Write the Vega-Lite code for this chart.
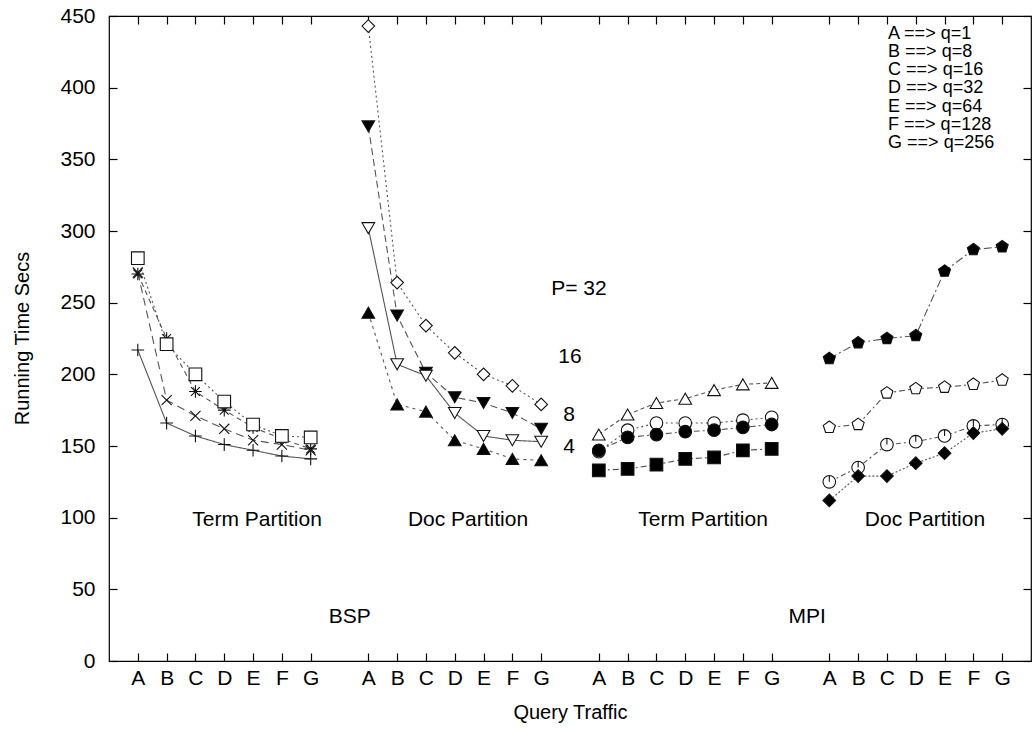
{
  "$schema": "https://vega.github.io/schema/vega-lite/v6.json",
  "width": 922,
  "height": 645,
  "autosize": {"type": "none"},
  "padding": {"left": 109, "top": 16, "right": 2, "bottom": 69},
  "background": "white",
  "config": {
    "view": {"stroke": "#000", "strokeWidth": 1.2},
    "font": "Liberation Sans",
    "axis": {"grid": false, "domain": false, "tickColor": "#000", "tickSize": -8, "tickWidth": 1.2, "labelColor": "#000", "labelFontSize": 21, "titleFontSize": 20, "titleFontWeight": "normal", "titleColor": "#000"}
  },
  "datasets": {
    "series": [
      {"s": "t_plus", "x": 1, "y": 217}, {"s": "t_plus", "x": 2, "y": 166}, {"s": "t_plus", "x": 3, "y": 157}, {"s": "t_plus", "x": 4, "y": 151}, {"s": "t_plus", "x": 5, "y": 147}, {"s": "t_plus", "x": 6, "y": 143}, {"s": "t_plus", "x": 7, "y": 141},
      {"s": "t_x", "x": 1, "y": 271}, {"s": "t_x", "x": 2, "y": 182}, {"s": "t_x", "x": 3, "y": 171}, {"s": "t_x", "x": 4, "y": 162}, {"s": "t_x", "x": 5, "y": 154}, {"s": "t_x", "x": 6, "y": 151}, {"s": "t_x", "x": 7, "y": 147},
      {"s": "t_star", "x": 1, "y": 270}, {"s": "t_star", "x": 2, "y": 225}, {"s": "t_star", "x": 3, "y": 188}, {"s": "t_star", "x": 4, "y": 175}, {"s": "t_star", "x": 5, "y": 163}, {"s": "t_star", "x": 6, "y": 155}, {"s": "t_star", "x": 7, "y": 148},
      {"s": "t_sq", "x": 1, "y": 281}, {"s": "t_sq", "x": 2, "y": 221}, {"s": "t_sq", "x": 3, "y": 200}, {"s": "t_sq", "x": 4, "y": 181}, {"s": "t_sq", "x": 5, "y": 165}, {"s": "t_sq", "x": 6, "y": 157}, {"s": "t_sq", "x": 7, "y": 156},
      {"s": "d_dia", "x": 9, "y": 443}, {"s": "d_dia", "x": 10, "y": 264}, {"s": "d_dia", "x": 11, "y": 234}, {"s": "d_dia", "x": 12, "y": 215}, {"s": "d_dia", "x": 13, "y": 200}, {"s": "d_dia", "x": 14, "y": 192}, {"s": "d_dia", "x": 15, "y": 179},
      {"s": "d_tdf", "x": 9, "y": 373}, {"s": "d_tdf", "x": 10, "y": 241}, {"s": "d_tdf", "x": 11, "y": 201}, {"s": "d_tdf", "x": 12, "y": 184}, {"s": "d_tdf", "x": 13, "y": 180}, {"s": "d_tdf", "x": 14, "y": 173}, {"s": "d_tdf", "x": 15, "y": 162},
      {"s": "d_tdo", "x": 9, "y": 302}, {"s": "d_tdo", "x": 10, "y": 207}, {"s": "d_tdo", "x": 11, "y": 199}, {"s": "d_tdo", "x": 12, "y": 173}, {"s": "d_tdo", "x": 13, "y": 157}, {"s": "d_tdo", "x": 14, "y": 154}, {"s": "d_tdo", "x": 15, "y": 153},
      {"s": "d_tuf", "x": 9, "y": 243}, {"s": "d_tuf", "x": 10, "y": 179}, {"s": "d_tuf", "x": 11, "y": 174}, {"s": "d_tuf", "x": 12, "y": 154}, {"s": "d_tuf", "x": 13, "y": 148}, {"s": "d_tuf", "x": 14, "y": 141}, {"s": "d_tuf", "x": 15, "y": 140},
      {"s": "m_tuo", "x": 17, "y": 158}, {"s": "m_tuo", "x": 18, "y": 172}, {"s": "m_tuo", "x": 19, "y": 180}, {"s": "m_tuo", "x": 20, "y": 183}, {"s": "m_tuo", "x": 21, "y": 189}, {"s": "m_tuo", "x": 22, "y": 193}, {"s": "m_tuo", "x": 23, "y": 194},
      {"s": "m_co", "x": 17, "y": 146}, {"s": "m_co", "x": 18, "y": 161}, {"s": "m_co", "x": 19, "y": 166}, {"s": "m_co", "x": 20, "y": 166}, {"s": "m_co", "x": 21, "y": 166}, {"s": "m_co", "x": 22, "y": 168}, {"s": "m_co", "x": 23, "y": 170},
      {"s": "m_cf", "x": 17, "y": 147}, {"s": "m_cf", "x": 18, "y": 156}, {"s": "m_cf", "x": 19, "y": 158}, {"s": "m_cf", "x": 20, "y": 160}, {"s": "m_cf", "x": 21, "y": 161}, {"s": "m_cf", "x": 22, "y": 163}, {"s": "m_cf", "x": 23, "y": 165},
      {"s": "m_sqf", "x": 17, "y": 133}, {"s": "m_sqf", "x": 18, "y": 134}, {"s": "m_sqf", "x": 19, "y": 137}, {"s": "m_sqf", "x": 20, "y": 141}, {"s": "m_sqf", "x": 21, "y": 142}, {"s": "m_sqf", "x": 22, "y": 147}, {"s": "m_sqf", "x": 23, "y": 148},
      {"s": "n_pf", "x": 25, "y": 211}, {"s": "n_pf", "x": 26, "y": 222}, {"s": "n_pf", "x": 27, "y": 225}, {"s": "n_pf", "x": 28, "y": 227}, {"s": "n_pf", "x": 29, "y": 272}, {"s": "n_pf", "x": 30, "y": 287}, {"s": "n_pf", "x": 31, "y": 289},
      {"s": "n_po", "x": 25, "y": 163}, {"s": "n_po", "x": 26, "y": 165}, {"s": "n_po", "x": 27, "y": 187}, {"s": "n_po", "x": 28, "y": 190}, {"s": "n_po", "x": 29, "y": 191}, {"s": "n_po", "x": 30, "y": 193}, {"s": "n_po", "x": 31, "y": 196},
      {"s": "n_clock", "x": 25, "y": 125}, {"s": "n_clock", "x": 26, "y": 135}, {"s": "n_clock", "x": 27, "y": 151}, {"s": "n_clock", "x": 28, "y": 153}, {"s": "n_clock", "x": 29, "y": 157}, {"s": "n_clock", "x": 30, "y": 164}, {"s": "n_clock", "x": 31, "y": 165},
      {"s": "n_diaf", "x": 25, "y": 112}, {"s": "n_diaf", "x": 26, "y": 129}, {"s": "n_diaf", "x": 27, "y": 129}, {"s": "n_diaf", "x": 28, "y": 138}, {"s": "n_diaf", "x": 29, "y": 145}, {"s": "n_diaf", "x": 30, "y": 159}, {"s": "n_diaf", "x": 31, "y": 162}
    ],
    "notes": [
      {"label": "Term Partition", "x": 5.14, "y": 98.4},
      {"label": "Doc Partition", "x": 12.46, "y": 98.4},
      {"label": "Term Partition", "x": 20.62, "y": 98.4},
      {"label": "Doc Partition", "x": 28.32, "y": 98.4},
      {"label": "BSP", "x": 8.36, "y": 30.7},
      {"label": "MPI", "x": 24.23, "y": 30.7},
      {"label": "P= 32", "x": 16.31, "y": 259.5},
      {"label": "16", "x": 16.0, "y": 212.1},
      {"label": "8", "x": 15.97, "y": 171.6},
      {"label": "4", "x": 15.97, "y": 149.3}
    ],
    "keys": [
      {"label": "A ==> q=1", "x": 27.04, "y": 437.6},
      {"label": "B ==> q=8", "x": 27.04, "y": 424.9},
      {"label": "C ==> q=16", "x": 27.04, "y": 412.2},
      {"label": "D ==> q=32", "x": 27.04, "y": 399.5},
      {"label": "E ==> q=64", "x": 27.04, "y": 386.8},
      {"label": "F ==> q=128", "x": 27.04, "y": 374.1},
      {"label": "G ==> q=256", "x": 27.04, "y": 361.4}
    ]
  },
  "layer": [
    {
      "data": {"name": "series"},
      "mark": {"type": "line", "stroke": "#555", "strokeWidth": 1.1},
      "encoding": {
        "x": {"field": "x", "type": "quantitative", "scale": {"domain": [0, 32], "nice": false, "zero": false},
          "axis": {"values": [1,2,3,4,5,6,7,9,10,11,12,13,14,15,17,18,19,20,21,22,23,25,26,27,28,29,30,31], "labelExpr": "['A','B','C','D','E','F','G','H'][(datum.value - 1) % 8]", "labelPadding": 14, "labelFlush": false, "labelOverlap": false, "title": "Query Traffic", "titleX": 461, "titleY": 51, "titleBaseline": "middle"}},
        "y": {"field": "y", "type": "quantitative", "scale": {"domain": [0, 450], "nice": false, "zero": true},
          "axis": {"values": [0,50,100,150,200,250,300,350,400,450], "labelPadding": 22, "labelFlush": false, "labelOverlap": false, "title": "Running Time Secs", "titleX": -87, "titleY": 322, "titleAlign": "center", "titleBaseline": "middle", "titleAngle": -90}},
        "detail": {"field": "s"},
        "strokeDash": {"field": "s", "type": "nominal", "legend": null,
          "scale": {"domain": ["t_plus","t_x","t_star","t_sq","d_dia","d_tdf","d_tdo","d_tuf","m_tuo","m_co","m_cf","m_sqf","n_pf","n_po","n_clock","n_diaf"],
            "range": [[1,0],[8,5],[5,4],[2,3],[2,3],[7,4],[1,0],[3,4],[4,3],[2,3],[6,3,2,3],[6,3,2,3],[8,3,2,3],[6,3,2,3],[5,3,2,3],[2,2]]}}
      }
    },
    {
      "data": {"name": "series"},
      "mark": {"type": "point", "filled": false, "size": 160, "stroke": "#111", "strokeWidth": 1.1, "opacity": 1},
      "encoding": {
        "x": {"field": "x", "type": "quantitative", "axis": {"orient": "top", "labels": false, "title": null, "values": [1,2,3,4,5,6,7,9,10,11,12,13,14,15,17,18,19,20,21,22,23,25,26,27,28,29,30,31]}},
        "y": {"field": "y", "type": "quantitative", "axis": {"orient": "right", "labels": false, "title": null, "values": [0,50,100,150,200,250,300,350,400,450]}},
        "shape": {"field": "s", "type": "nominal", "legend": null,
          "scale": {"domain": ["t_plus","t_x","t_star","t_sq","d_dia","d_tdf","d_tdo","d_tuf","m_tuo","m_co","m_cf","m_sqf","n_pf","n_po","n_clock","n_diaf"],
            "range": ["M-1,0L1,0M0,-1L0,1", "M-0.8,-0.8L0.8,0.8M-0.8,0.8L0.8,-0.8", "M-1,0L1,0M0,-1L0,1M-0.7,-0.7L0.7,0.7M-0.7,0.7L0.7,-0.7", "square", "diamond", "triangle-down", "triangle-down", "triangle-up", "triangle-up", "circle", "circle", "square", "M0,-1L0.951,-0.309L0.588,0.809L-0.588,0.809L-0.951,-0.309Z", "M0,-1L0.951,-0.309L0.588,0.809L-0.588,0.809L-0.951,-0.309Z", "M1,0A1,1,0,1,1,-1,0A1,1,0,1,1,1,0ZM0,0L0,-1", "diamond"]}},
        "fill": {"field": "s", "type": "nominal", "legend": null,
          "scale": {"domain": ["t_plus","t_x","t_star","t_sq","d_dia","d_tdf","d_tdo","d_tuf","m_tuo","m_co","m_cf","m_sqf","n_pf","n_po","n_clock","n_diaf"],
            "range": ["#fff","#fff","#fff","#fff","#fff","#000","#fff","#000","#fff","#fff","#000","#000","#000","#fff","#fff","#000"]}}
      }
    },
    {
      "data": {"name": "notes"},
      "mark": {"type": "text", "fontSize": 21, "align": "center", "baseline": "middle", "color": "#000"},
      "encoding": {
        "x": {"field": "x", "type": "quantitative", "axis": null},
        "y": {"field": "y", "type": "quantitative", "axis": null},
        "text": {"field": "label"}
      }
    },
    {
      "data": {"name": "keys"},
      "mark": {"type": "text", "fontSize": 18, "align": "left", "baseline": "middle", "color": "#000"},
      "encoding": {
        "x": {"field": "x", "type": "quantitative", "axis": null},
        "y": {"field": "y", "type": "quantitative", "axis": null},
        "text": {"field": "label"}
      }
    }
  ],
  "resolve": {"axis": {"x": "independent", "y": "independent"}}
}
